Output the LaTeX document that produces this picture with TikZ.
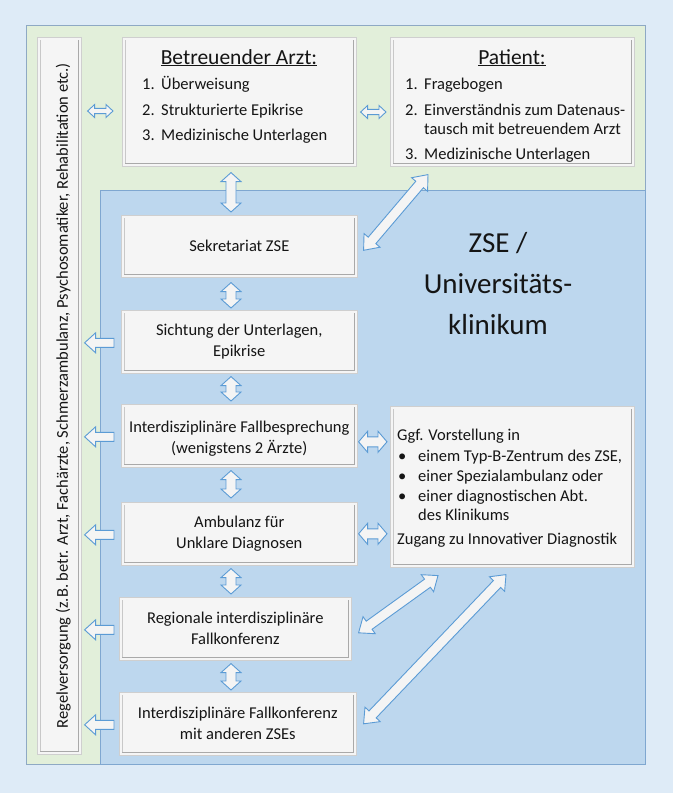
\documentclass[tikz,border=0pt]{standalone}
\usepackage{fontspec}
\setmainfont{Carlito}
\usetikzlibrary{calc}
\definecolor{bgblue}{HTML}{DEEBF7}
\definecolor{zgreen}{HTML}{E2EFDA}
\definecolor{zblue}{HTML}{BDD7EE}
\definecolor{zline}{HTML}{8EA9C4}
\definecolor{zblueline}{HTML}{7FA7D0}
\definecolor{boxfill}{HTML}{F5F5F5}
\definecolor{boxline}{HTML}{CFCFCF}
\definecolor{bevelc}{HTML}{A9A9A9}
\definecolor{bevell}{HTML}{C8C8C8}
\definecolor{arrline}{HTML}{5B9BD5}
\definecolor{arrfill}{HTML}{F4F4F4}
\definecolor{txtc}{HTML}{151515}
\tikzset{
  box/.style={draw=boxline, line width=0.6pt, fill=boxfill, inner sep=0pt, anchor=north west},
  bevelline/.style={draw=bevelc, line width=1.3pt},
  bevellight/.style={draw=bevell, line width=1pt},
  txt/.style={inner sep=0pt, text=txtc, font=\fontsize{16.5}{21}\selectfont},
  ttl/.style={inner sep=0pt, text=txtc, font=\fontsize{21.5}{25}\selectfont},
  barrow/.style={draw=arrline, line width=0.9pt, fill=arrfill, line join=miter},
}
\newcommand\bevel[1]{%
  \draw[bevellight] ($(#1.north west)+(3,3)$) -- ($(#1.south west)+(3,-3)$);
  \draw[bevelline] ($(#1.south west)+(3,-3)$) -- ($(#1.south east)+(-3,-3)$) -- ($(#1.north east)+(-3,3)$);}
% double block arrow: #1 start, #2 end, #3 head length, #4 head half width, #5 shaft half width
\newcommand\dbar[5]{\draw[barrow] (#1) -- ($(#1)!#3!(#2)!#4!90:(#2)$) -- ($(#1)!#3!(#2)!#5!90:(#2)$) -- ($(#2)!#3!(#1)!#5!-90:(#1)$) -- ($(#2)!#3!(#1)!#4!-90:(#1)$) -- (#2) -- ($(#2)!#3!(#1)!#4!90:(#1)$) -- ($(#2)!#3!(#1)!#5!90:(#1)$) -- ($(#1)!#3!(#2)!#5!-90:(#2)$) -- ($(#1)!#3!(#2)!#4!-90:(#2)$) -- cycle;}
% single block arrow: #1 tail, #2 tip
\newcommand\sbar[5]{\draw[barrow] (#2) -- ($(#2)!#3!(#1)!#4!90:(#1)$) -- ($(#2)!#3!(#1)!#5!90:(#1)$) -- ($(#1)!#5!-90:(#2)$) -- ($(#1)!#5!90:(#2)$) -- ($(#2)!#3!(#1)!#5!-90:(#1)$) -- ($(#2)!#3!(#1)!#4!-90:(#1)$) -- cycle;}
\begin{document}
\begin{tikzpicture}[x=1pt,y=-1pt]
\useasboundingbox (0,0) rectangle (673,793);
\fill[bgblue] (0,0) rectangle (673,793);
% regions
\draw[zline, fill=zgreen, line width=0.8pt] (26,25) rectangle (645,764);
\draw[zblueline, fill=zblue, line width=0.8pt] (100,190) rectangle (645,764);
% big label
\node[inner sep=0pt, text=txtc, align=center, font=\fontsize{29}{41}\selectfont] (zse) at (498,284) {ZSE /\\Universitäts-\\klinikum};
% boxes
\node[box, minimum width=44pt, minimum height=717pt] (bar) at (37,37) {};
\node[box, minimum width=234pt, minimum height=129pt] (arzt) at (122,37) {};
\node[box, minimum width=244pt, minimum height=129pt] (patient) at (390,37) {};
\node[box, minimum width=236pt, minimum height=62pt] (sek) at (121,215) {};
\node[box, minimum width=236pt, minimum height=63pt] (sicht) at (121,310) {};
\node[box, minimum width=236pt, minimum height=63pt] (fallb) at (121,404) {};
\node[box, minimum width=236pt, minimum height=63pt] (amb) at (121,502) {};
\node[box, minimum width=232pt, minimum height=63pt] (reg) at (119,597) {};
\node[box, minimum width=237pt, minimum height=63pt] (fallk) at (119,692) {};
\node[box, minimum width=244pt, minimum height=161pt] (ggf) at (390,406) {};
\foreach \b in {bar,arzt,patient,sek,sicht,fallb,amb,reg,fallk,ggf} {\bevel{\b}}
% texts
\node[txt, rotate=90] (bar-t) at ($(bar.center)+(4,0)$) {Regelversorgung (z.B. betr. Arzt, Fachärzte, Schmerzambulanz, Psychosomatiker, Rehabilitation etc.)};
\node[ttl, anchor=base] (arzt-t) at (239,64) {\underline{Betreuender Arzt:}};
\node[txt, anchor=base west] (arzt-n1) at (142,89) {1.};
\node[txt, anchor=base west] (arzt-i1) at (161,89) {Überweisung};
\node[txt, anchor=base west] (arzt-n2) at (142,115) {2.};
\node[txt, anchor=base west] (arzt-i2) at (161,115) {Strukturierte Epikrise};
\node[txt, anchor=base west] (arzt-n3) at (142,140) {3.};
\node[txt, anchor=base west] (arzt-i3) at (161,140) {Medizinische Unterlagen};
\node[ttl, anchor=base] (pat-t) at (512,64) {\underline{Patient:}};
\node[txt, anchor=base west] (pat-n1) at (405,89) {1.};
\node[txt, anchor=base west] (pat-i1) at (424,89) {Fragebogen};
\node[txt, anchor=base west] (pat-n2) at (405,115) {2.};
\node[txt, anchor=base west] (pat-i2) at (424,115) {Einverständnis zum Datenaus-};
\node[txt, anchor=base west] (pat-i2b) at (424,134) {tausch mit betreuendem Arzt};
\node[txt, anchor=base west] (pat-n3) at (405,159) {3.};
\node[txt, anchor=base west] (pat-i3) at (424,159) {Medizinische Unterlagen};
\node[txt] (sek-t) at (sek.center) {Sekretariat ZSE};
\node[txt, align=center] (sicht-t) at (sicht.center) {Sichtung der Unterlagen,\\Epikrise};
\node[txt, align=center] (fallb-t) at ($(fallb.center)+(0,3)$) {Interdisziplinäre Fallbesprechung\\(wenigstens 2 Ärzte)};
\node[txt, align=center] (amb-t) at (amb.center) {Ambulanz für\\Unklare Diagnosen};
\node[txt, align=center] (reg-t) at (reg.center) {Regionale interdisziplinäre\\Fallkonferenz};
\node[txt, align=center] (fallk-t) at (fallk.center) {Interdisziplinäre Fallkonferenz\\mit anderen ZSEs};
\node[txt, anchor=base west] (ggf-1) at (397,440) {Ggf. Vorstellung in};
\node[txt, anchor=base west] (ggf-b1) at (398,461) {•};
\node[txt, anchor=base west] (ggf-2) at (418,461) {einem Typ-B-Zentrum des ZSE,};
\node[txt, anchor=base west] (ggf-b2) at (398,481) {•};
\node[txt, anchor=base west] (ggf-3) at (418,481) {einer Spezialambulanz oder};
\node[txt, anchor=base west] (ggf-b3) at (398,501) {•};
\node[txt, anchor=base west] (ggf-4) at (418,501) {einer diagnostischen Abt.};
\node[txt, anchor=base west] (ggf-5) at (418,520) {des Klinikums};
\node[txt, anchor=base west] (ggf-6) at (397,544) {Zugang zu Innovativer Diagnostik};
% arrow end points
\coordinate (axis) at (231,0);
\coordinate (h1a) at ($(bar.east |- 0,111)+(6,0)$);
\coordinate (h1b) at ($(arzt.west |- 0,111)+(-9,0)$);
\coordinate (h2a) at ($(arzt.east |- 0,112)+(4,0)$);
\coordinate (h2b) at ($(patient.west |- 0,112)+(-4,0)$);
\coordinate (v1a) at ($(axis |- arzt.south)+(0,6)$);
\coordinate (v1b) at ($(axis |- sek.north)+(0,-3)$);
\coordinate (v2a) at ($(axis |- sek.south)+(0,5)$);
\coordinate (v2b) at ($(axis |- sicht.north)+(0,-2)$);
\coordinate (v3a) at ($(axis |- sicht.south)+(0,3)$);
\coordinate (v3b) at ($(axis |- fallb.north)+(0,-3)$);
\coordinate (v4a) at ($(axis |- fallb.south)+(0,3)$);
\coordinate (v4b) at ($(axis |- amb.north)+(0,-4)$);
\coordinate (v5a) at ($(axis |- amb.south)+(0,3)$);
\coordinate (v5b) at ($(axis |- reg.north)+(0,-3)$);
\coordinate (v6a) at ($(axis |- reg.south)+(0,3)$);
\coordinate (v6b) at ($(axis |- fallk.north)+(0,-2)$);
\coordinate (d1a) at ($(patient.south west)+(38,8)$);
\coordinate (d1b) at ($(sek.east)+(6,4)$);
\coordinate (d2a) at ($(ggf.south west)+(48,8)$);
\coordinate (d2b) at ($(reg.east)+(7,4)$);
\coordinate (d3a) at ($(ggf.south west)+(116,7)$);
\coordinate (d3b) at ($(fallk.east)+(7,0)$);
\coordinate (g1a) at ($(fallb.east)+(1,6)$);
\coordinate (g1b) at ($(ggf.west |- fallb.east)+(-3,6)$);
\coordinate (g2a) at ($(amb.east)+(1,0)$);
\coordinate (g2b) at ($(ggf.west |- amb.east)+(-3,0)$);
% arrows
\dbar{h1a}{h1b}{7pt}{6.5pt}{2.6pt}
\dbar{h2a}{h2b}{7pt}{6.5pt}{2.6pt}
\foreach \n in {1,...,6} {\dbar{v\n a}{v\n b}{9pt}{10pt}{5pt}}
\foreach \n in {1,2,3} {\dbar{d\n a}{d\n b}{13pt}{10.5pt}{5pt}}
\foreach \n in {1,2} {\dbar{g\n a}{g\n b}{9pt}{10.5pt}{5pt}}
\foreach \b/\s in {sicht/7,fallb/7,amb/7,reg/5,fallk/5} {
  \coordinate (\b-la) at ($(\b.west)+(-\s,1)$);
  \coordinate (\b-lb) at ($(bar.east |- \b.west)+(3,1)$);
  \sbar{\b-la}{\b-lb}{11pt}{10pt}{4.5pt}
}
\end{tikzpicture}
\end{document}
